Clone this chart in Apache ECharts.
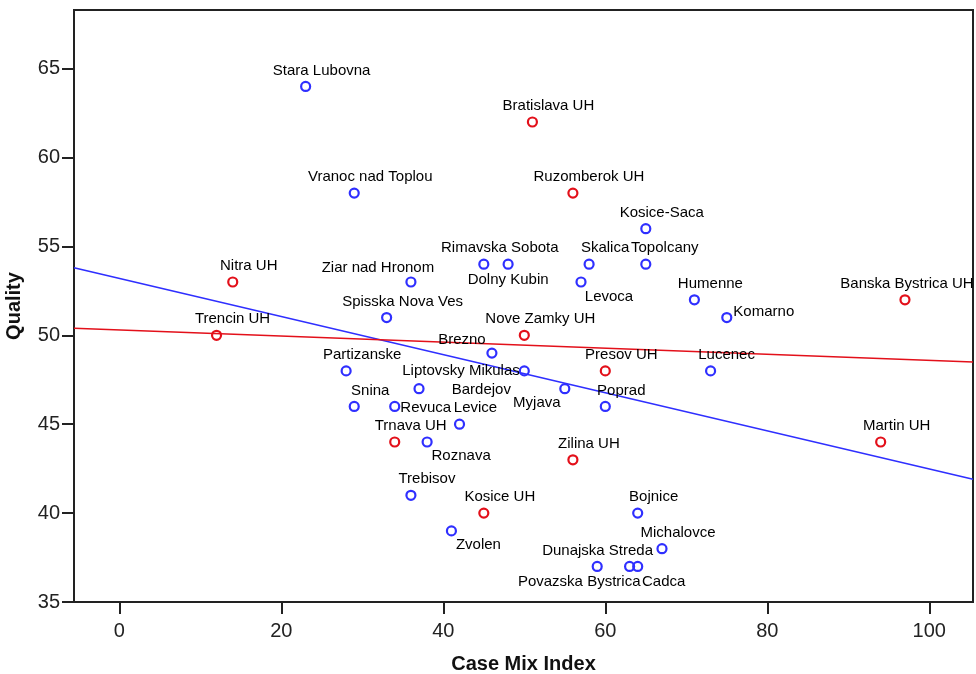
<!DOCTYPE html>
<html lang="en">
<head>
    <meta charset="UTF-8">
    <title>Quality vs Case Mix Index</title>
    <style>
        html, body { margin: 0; padding: 0; background: #fff; }
        #main { width: 976px; height: 674px; }
    </style>
</head>
<body>
    <div id="main"></div>
    <script src="https://cdn.jsdelivr.net/npm/echarts@6/dist/echarts.min.js"></script>
    <script>
        // blue group
        var blueNames = ['Stara Lubovna', 'Vranoc nad Toplou', 'Kosice-Saca', 'Rimavska Sobota', 'Dolny Kubin',
            'Skalica', 'Topolcany', 'Ziar nad Hronom', 'Levoca', 'Humenne', 'Komarno', 'Spisska Nova Ves',
            'Brezno', 'Partizanske', 'Bardejov', 'Lucenec', 'Liptovsky Mikulas', 'Myjava', 'Snina', 'Revuca',
            'Poprad', 'Levice', 'Roznava', 'Trebisov', 'Bojnice', 'Zvolen', 'Michalovce', 'Povazska Bystrica',
            'Dunajska Streda', 'Cadca'];
        var blueX = [23, 29, 65, 45, 48, 58, 65, 36, 57, 71, 75, 33, 46, 28, 50, 73, 37, 55, 29, 34, 60, 42, 38, 36, 64, 41, 67, 59, 63, 64];
        var blueY = [64, 58, 56, 54, 54, 54, 54, 53, 53, 52, 51, 51, 49, 48, 48, 48, 47, 47, 46, 46, 46, 45, 44, 41, 40, 39, 38, 37, 37, 37];

        // red group
        var redNames = ['Bratislava UH', 'Ruzomberok UH', 'Nitra UH', 'Banska Bystrica UH', 'Trencin UH',
            'Nove Zamky UH', 'Presov UH', 'Trnava UH', 'Martin UH', 'Zilina UH', 'Kosice UH'];
        var redX = [51, 56, 14, 97, 12, 50, 60, 34, 94, 56, 45];
        var redY = [62, 58, 53, 52, 50, 50, 48, 44, 44, 43, 40];

        // fit lines (end points at the axis edges)
        var blueFit = [[-5.6, 53.8], [105.4, 41.9]];
        var redFit = [[-5.6, 50.4], [105.4, 48.5]];

        var xTicks = [0, 20, 40, 60, 80, 100];
        var yTicks = [35, 40, 45, 50, 55, 60, 65];

        // where each label sits around its point (px)
        var labelPos = {
            'Ziar nad Hronom': [-33, -14],
            'Dolny Kubin': [0, 16],
            'Levoca': [28, 15],
            'Topolcany': [19, -16],
            'Komarno': [37, -6],
            'Banska Bystrica UH': [2, -16],
            'Brezno': [-30, -13],
            'Liptovsky Mikulas': [42, -18],
            'Bardejov': [-43, 19],
            'Myjava': [-28, 14],
            'Revuca': [31, 1],
            'Roznava': [34, 14],
            'Zvolen': [27, 14],
            'Dunajska Streda': [-32, -16],
            'Povazska Bystrica': [-18, 15],
            'Cadca': [26, 15]
        };

        var blue = '#2f2fff';
        var red = '#e3101a';
        var font = 'Liberation Sans, Arial, sans-serif';

        function points(names, xs, ys) {
            return names.map(function (n, i) {
                return {
                    name: n,
                    value: [xs[i], ys[i]],
                    label: { offset: labelPos[n] || [16, -16] }
                };
            });
        }

        var pointLabel = {
            show: true,
            position: 'inside',
            formatter: '{b}',
            color: '#000',
            fontSize: 15,
            fontFamily: font,
            align: 'center',
            verticalAlign: 'middle'
        };

        var myChart = echarts.init(document.getElementById('main'));
        var option = {
            backgroundColor: '#fff',
            animation: false,
            grid: {
                left: 74, right: 3, top: 10, bottom: 72,
                outerBoundsMode: 'none',
                show: true, borderColor: '#222', borderWidth: 2
            },
            xAxis: {
                type: 'value',
                min: -5.6, max: 105.4,
                name: 'Case Mix Index',
                nameLocation: 'middle',
                nameGap: 52,
                nameTextStyle: { fontSize: 20, fontWeight: 'bold', color: '#111', fontFamily: font },
                splitLine: { show: false },
                axisLine: { onZero: false, lineStyle: { color: '#222', width: 2 } },
                axisTick: { length: 12, lineStyle: { color: '#222', width: 2 }, customValues: xTicks },
                axisLabel: { margin: 19, fontSize: 20, color: '#222', fontFamily: font, customValues: xTicks }
            },
            yAxis: {
                type: 'value',
                min: 35, max: 68.3,
                name: 'Quality',
                nameLocation: 'middle',
                nameGap: 50,
                nameTextStyle: { fontSize: 20, fontWeight: 'bold', color: '#111', fontFamily: font },
                splitLine: { show: false },
                axisLine: { show: true, onZero: false, lineStyle: { color: '#222', width: 2 } },
                axisTick: { length: 12, lineStyle: { color: '#222', width: 2 }, customValues: yTicks },
                axisLabel: { margin: 14, fontSize: 20, color: '#222', fontFamily: font, customValues: yTicks }
            },
            series: [
                {
                    type: 'line', data: blueFit, symbol: 'none', silent: true, z: 1,
                    lineStyle: { color: blue, width: 1.5 }
                },
                {
                    type: 'line', data: redFit, symbol: 'none', silent: true, z: 1,
                    lineStyle: { color: red, width: 1.5 }
                },
                {
                    type: 'scatter', data: points(blueNames, blueX, blueY), z: 3,
                    symbol: 'circle', symbolSize: 9,
                    itemStyle: { color: 'rgba(255,255,255,0)', borderColor: blue, borderWidth: 2.2, opacity: 1 },
                    label: pointLabel
                },
                {
                    type: 'scatter', data: points(redNames, redX, redY), z: 3,
                    symbol: 'circle', symbolSize: 9,
                    itemStyle: { color: 'rgba(255,255,255,0)', borderColor: red, borderWidth: 2.2, opacity: 1 },
                    label: pointLabel
                }
            ]
        };
        option && myChart.setOption(option);
    </script>
</body>
</html>
